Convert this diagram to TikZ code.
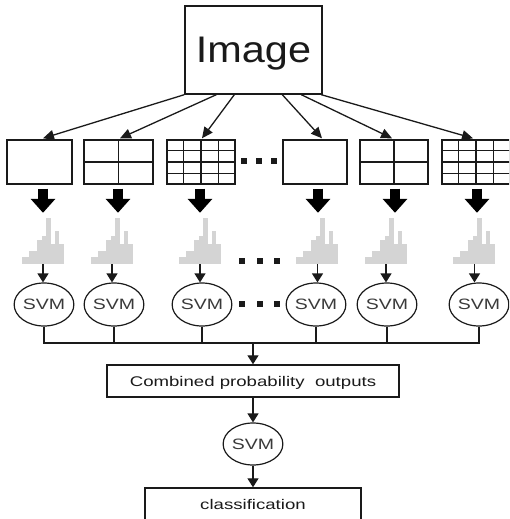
\documentclass[tikz,border=0pt]{standalone}
\usepackage{fontspec}
\setmainfont{Liberation Sans}
\usetikzlibrary{shapes.geometric,arrows.meta,calc}

\definecolor{ink}{HTML}{1A1A1A}
\definecolor{barfill}{HTML}{D4D4D4}
\definecolor{svmtext}{HTML}{3A3A3A}

\tikzset{
  frame/.style={rectangle, draw=ink, line width=1.4pt, inner sep=0pt, text=ink, text depth=0pt},
  gridline/.style={draw=ink, line width=1.4pt},
  svm/.style={ellipse, draw=ink, line width=1.2pt, minimum width=54pt, minimum height=43pt,
              inner sep=0pt, text=svmtext, font=\fontsize{15}{16}\selectfont},
  arr/.style={draw=ink, line width=1.3pt, -{Triangle[length=11pt,width=10pt]}},
  fatarrow/.style={draw=black, line width=10pt, -{Triangle[length=14pt,width=24pt]}},
  thinarrow/.style={draw=ink, line width=1.3pt, -{Triangle[length=9pt,width=11pt]}},
  hist/.style={rectangle, minimum width=42pt, minimum height=51pt, inner sep=0pt},
  smalltext/.style={font=\fontsize{14}{16}\selectfont}
}

% grey histogram bars drawn on top of an (invisible) histogram node
\newcommand\histbars[1]{%
  \foreach \bx/\bw/\bh in {0/7/7,7/8/13,15/5/24,20/4/28,24/5/46,29/4/20,33/4/33,37/5/20}
    \fill[barfill] ($(#1.south west)+(\bx,0)$) rectangle ($(#1.south west)+(\bx+\bw,-\bh)$);%
}
% 4x4 grid inside a box node
\newcommand\quadgrid[1]{%
  \foreach \k in {1,2,3} {
    \draw[gridline] ($(#1.north west)!\k/4!(#1.north east)$) -- ($(#1.south west)!\k/4!(#1.south east)$);
    \draw[gridline] ($(#1.north west)!\k/4!(#1.south west)$) -- ($(#1.north east)!\k/4!(#1.south east)$);
  }%
}

\begin{document}
\begin{tikzpicture}[x=1pt, y=-1pt]
  \clip (0,0) rectangle (509,519);
  \fill[white] (0,0) rectangle (509,519);

  % source image
  \node[frame, minimum width=137pt, minimum height=88pt, font=\fontsize{37}{40}\selectfont]
    (img) at (253.5,50) {\scalebox{1.12}[1]{Image}};

  % pyramid levels
  \node[frame, minimum width=65pt, minimum height=44pt] (b1) at (39.5,162) {};
  \node[frame, minimum width=69pt, minimum height=44pt] (b2) at (118.5,162) {};
  \node[frame, minimum width=68pt, minimum height=44pt] (b3) at (201,162) {};
  \node[frame, minimum width=64pt, minimum height=44pt] (b4) at (315,162) {};
  \node[frame, minimum width=68pt, minimum height=44pt] (b5) at (394,162) {};
  \node[frame, minimum width=68pt, minimum height=44pt] (b6) at (476,162) {};

  \draw[gridline] (b2.north) -- (b2.south);
  \draw[gridline] (b2.west) -- (b2.east);
  \draw[gridline] (b5.north) -- (b5.south);
  \draw[gridline] (b5.west) -- (b5.east);
  \quadgrid{b3}
  \quadgrid{b6}

  % image to levels
  \foreach \i/\sx/\ex in {1/0/3.5, 2/32/1.5, 3/50/1, 4/98/7, 5/117/-2, 6/137/-3}
    \draw[arr] ($(img.south west)+(\sx,0)$) -- ($(b\i.north)+(\ex,-1)$);

  % histograms
  \foreach \i/\hx in {1/43, 2/112, 3/200, 4/317.5, 5/386, 6/474.5} {
    \node[hist] (h\i) at (\hx,238.5) {};
    \histbars{h\i}
  }

  % level to histogram
  \foreach \i/\dx in {1/3.5, 2/-0.5, 3/-1, 4/3, 5/1, 6/1}
    \draw[fatarrow] ($(b\i.south)+(\dx,4)$) -- ($(b\i.south |- h\i.north)+(\dx,0)$);

  % classifiers
  \foreach \i/\sx in {1/44, 2/114, 3/202, 4/316, 5/387, 6/479}
    \node[svm] (s\i) at (\sx,304.5) {\scalebox{1.3}[1]{SVM}};

  \foreach \i in {1,...,6}
    \draw[thinarrow] (h\i.south) -- (h\i.south |- s\i.north);

  % ellipsis marks
  \foreach \dxx in {243.5, 259, 273.5}
    \fill[ink] (\dxx-3,158) rectangle (\dxx+3,164);
  \foreach \dyy in {261, 304}
    \foreach \dxx in {241.5, 259.5, 276.5}
      \fill[ink] (\dxx-3,\dyy-3) rectangle (\dxx+3,\dyy+3);

  % fusion
  \coordinate (join) at (253,343);
  \node[frame, smalltext, minimum width=292pt, minimum height=32pt] (comb) at (253,381)
    {\scalebox{1.33}[1]{Combined probability\ \ outputs}};
  \node[svm, minimum width=52pt, minimum height=42pt] (sf) at (253,444) {\scalebox{1.3}[1]{SVM}};
  \node[frame, smalltext, minimum width=216pt, minimum height=32pt] (cls) at (253,504)
    {\scalebox{1.33}[1]{classification}};

  \draw[ink, line width=1.3pt] (s1.south) |- (join);
  \draw[ink, line width=1.3pt] (s6.south) |- (join);
  \foreach \i in {2,...,5}
    \draw[ink, line width=1.3pt] (s\i.south) -- (s\i.south |- join);
  \draw[thinarrow] (join) -- (comb.north);
  \draw[thinarrow] (comb.south) -- (sf.north);
  \draw[thinarrow] (sf.south) -- (cls.north);
\end{tikzpicture}
\end{document}
